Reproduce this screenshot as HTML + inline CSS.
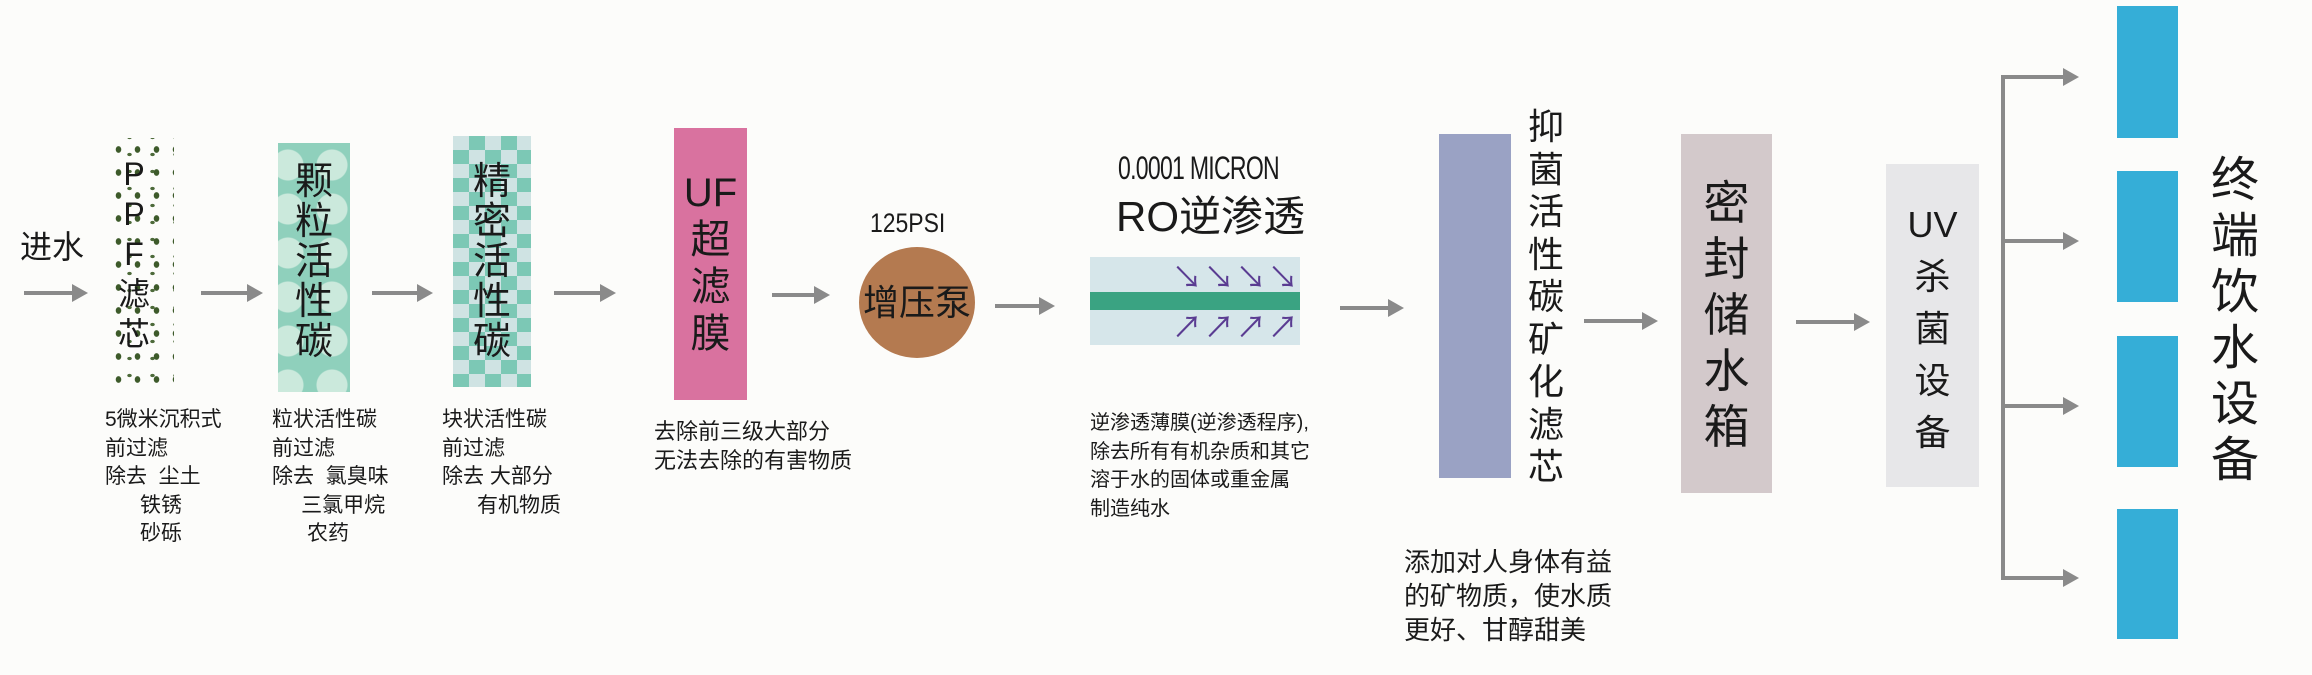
<!DOCTYPE html>
<html><head><meta charset="utf-8"><style>
body{margin:0;width:2312px;height:675px;background:#fcfcfa;position:relative;overflow:hidden;font-family:"Liberation Sans","Noto Sans CJK SC",sans-serif;color:#1a1a1a}
div{position:absolute}
.v{text-align:center}
.arr{height:4px;background:#8a8a8a}
.arr:after{content:"";position:absolute;right:-14px;top:-7px;border-left:16px solid #8a8a8a;border-top:9px solid transparent;border-bottom:9px solid transparent}
.t{font-size:21px;line-height:28.5px;white-space:pre}
.blue{background:#35aed7;width:61px;left:2117px}
</style></head><body>
<div style="left:20px;top:222px;font-size:32px">进水</div>
<div class="arr" style="left:24px;top:291px;width:50px"></div>
<div style="left:109px;top:138px;width:65px;height:245px;background-image:radial-gradient(#3d5a2a 2.5px,transparent 3px),radial-gradient(#4d6a3a 2px,transparent 2.5px);background-size:19px 23px,23px 17px;background-position:0 0,9px 8px"></div>
<div class="v" style="left:114px;top:154px;width:40px;font-size:32px;line-height:40px">P<br>P<br>F<br>滤<br>芯</div>
<div class="arr" style="left:201px;top:291px;width:48px"></div>
<div style="left:278px;top:143px;width:72px;height:249px;background-color:#8fd0bc;background-image:radial-gradient(circle,#cbe9dc 15px,transparent 16px);background-size:44px 44px;background-position:-12px 0"></div>
<div class="v" style="left:278px;top:162px;width:72px;font-size:38px;line-height:40px">颗<br>粒<br>活<br>性<br>碳</div>
<div class="arr" style="left:372px;top:291px;width:47px"></div>
<div style="left:453px;top:136px;width:78px;height:251px;background-color:#cfe3e3;background-image:conic-gradient(#7cc8b5 25%,transparent 0 50%,#7cc8b5 0 75%,transparent 0);background-size:32px 28px"></div>
<div class="v" style="left:453px;top:162px;width:78px;font-size:38px;line-height:40px">精<br>密<br>活<br>性<br>碳</div>
<div class="arr" style="left:554px;top:291px;width:48px"></div>
<div style="left:674px;top:128px;width:73px;height:272px;background:#d9729f"></div>
<div class="v" style="left:674px;top:170px;width:73px;font-size:40px;line-height:47px">UF<br>超<br>滤<br>膜</div>
<div class="arr" style="left:772px;top:293px;width:44px"></div>
<div style="left:870px;top:208px;font-size:27px;transform:scaleX(0.85);transform-origin:left">125PSI</div>
<div style="left:859px;top:247px;width:116px;height:111px;border-radius:50%;background:#b47a50;font-size:36px;line-height:111px;text-align:center">增压泵</div>
<div class="arr" style="left:995px;top:304px;width:46px"></div>
<div style="left:1118px;top:150px;font-size:32px;transform:scaleX(0.72);transform-origin:left;letter-spacing:-1px">0.0001 MICRON</div>
<div style="left:1116px;top:183px;font-size:42px">RO逆渗透</div>
<div style="left:1090px;top:257px;width:210px;height:88px;background:#d6e6ea"></div>
<div style="left:1090px;top:292px;width:210px;height:18px;background:#3aa382"></div>
<div style="left:1172px;top:253px;font-size:30px;color:#5a3c92;letter-spacing:2px">↘↘↘↘</div>
<div style="left:1172px;top:303px;font-size:30px;color:#5a3c92;letter-spacing:2px">↗↗↗↗</div>
<div class="arr" style="left:1340px;top:306px;width:50px"></div>
<div style="left:1439px;top:134px;width:72px;height:344px;background:#9aa2c4"></div>
<div class="v" style="left:1526px;top:106px;width:40px;font-size:36px;line-height:42.5px">抑<br>菌<br>活<br>性<br>碳<br>矿<br>化<br>滤<br>芯</div>
<div class="arr" style="left:1584px;top:319px;width:60px"></div>
<div style="left:1681px;top:134px;width:91px;height:359px;background:#d3c9cb"></div>
<div class="v" style="left:1681px;top:175px;width:91px;font-size:46px;line-height:56px">密<br>封<br>储<br>水<br>箱</div>
<div class="arr" style="left:1796px;top:320px;width:60px"></div>
<div style="left:1886px;top:164px;width:93px;height:323px;background:#e7e7e9"></div>
<div class="v" style="left:1886px;top:199px;width:93px;font-size:36px;line-height:52px">UV<br>杀<br>菌<br>设<br>备</div>
<div style="left:2001px;top:75px;width:4px;height:505px;background:#8a8a8a"></div>
<div class="arr" style="left:2001px;top:75px;width:64px"></div>
<div class="arr" style="left:2001px;top:239px;width:64px"></div>
<div class="arr" style="left:2001px;top:404px;width:64px"></div>
<div class="arr" style="left:2001px;top:576px;width:64px"></div>
<div class="blue" style="top:6px;height:132px"></div>
<div class="blue" style="top:171px;height:131px"></div>
<div class="blue" style="top:336px;height:131px"></div>
<div class="blue" style="top:509px;height:130px"></div>
<div class="v" style="left:2205px;top:153px;width:60px;font-size:48px;line-height:56px">终<br>端<br>饮<br>水<br>设<br>备</div>
<div class="t" style="left:105px;top:406px">5微米沉积式
前过滤
除去  尘土
      铁锈
      砂砾</div>
<div class="t" style="left:272px;top:406px">粒状活性碳
前过滤
除去  氯臭味
     三氯甲烷
      农药</div>
<div class="t" style="left:442px;top:406px">块状活性碳
前过滤
除去 大部分
      有机物质</div>
<div class="t" style="left:654px;top:418px;font-size:22px">去除前三级大部分
无法去除的有害物质</div>
<div class="t" style="left:1090px;top:409px;font-size:20px">逆渗透薄膜(逆渗透程序),
除去所有有机杂质和其它
溶于水的固体或重金属
制造纯水</div>
<div class="t" style="left:1404px;top:545px;font-size:26px;line-height:34px">添加对人身体有益
的矿物质，使水质
更好、甘醇甜美</div>
</body></html>
